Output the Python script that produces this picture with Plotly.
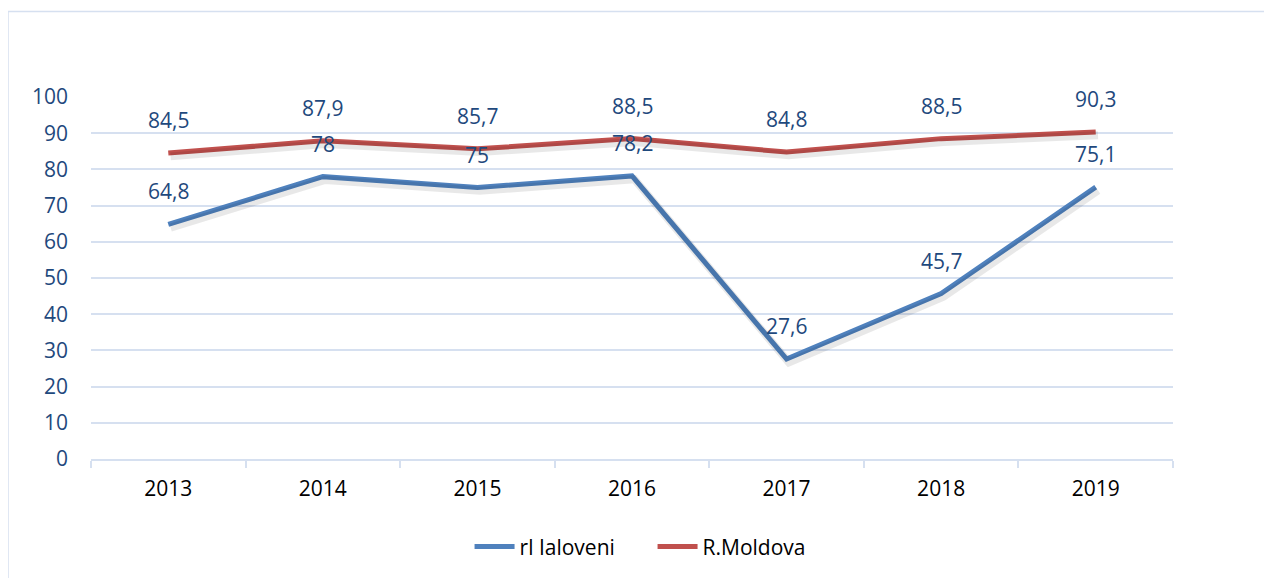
import plotly.graph_objects as go

years = ["2013", "2014", "2015", "2016", "2017", "2018", "2019"]
ialoveni = [64.8, 78, 75, 78.2, 27.6, 45.7, 75.1]
moldova = [84.5, 87.9, 85.7, 88.5, 84.8, 88.5, 90.3]
y_ticks = [0, 10, 20, 30, 40, 50, 60, 70, 80, 90, 100]

BLUE = "#4F81BD"
RED = "#C0504D"
LABEL = "#1F497D"
GRID = "#D6E0F0"
SHADOW = "rgba(0,0,0,0.09)"
FONT = "Open Sans"
FS = 21

def fmt(v):
    return ("%g" % v).replace(".", ",")

fig = go.Figure()
# soft drop shadows drawn on an overlaid, slightly offset axis pair
for series in (ialoveni, moldova):
    fig.add_trace(go.Scatter(x=list(range(len(years))), y=series, mode="lines",
                             xaxis="x2", yaxis="y2", showlegend=False, hoverinfo="skip",
                             line=dict(color=SHADOW, width=8)))
fig.add_trace(go.Scatter(x=years, y=ialoveni, mode="lines", name="rl Ialoveni",
                         line=dict(color=BLUE, width=5)))
fig.add_trace(go.Scatter(x=years, y=moldova, mode="lines", name="R.Moldova",
                         line=dict(color=RED, width=5)))

annotations = []
for series in (ialoveni, moldova):
    for i, yv in enumerate(series):
        annotations.append(dict(x=i, y=yv, text=fmt(yv), showarrow=False,
                                yshift=33, xref="x", yref="y",
                                font=dict(family=FONT, size=FS, color=LABEL)))

fig.update_layout(
    width=1272, height=578,
    margin=dict(l=83, r=107, t=89, b=127),
    paper_bgcolor="white", plot_bgcolor="white",
    font=dict(family=FONT, size=FS, color=LABEL),
    showlegend=True,
    legend=dict(orientation="h", x=0.519, xanchor="center", y=-0.243, yanchor="middle",
                font=dict(family=FONT, size=FS, color="#000000"),
                itemwidth=40, tracegroupgap=0, entrywidth=128),
    annotations=annotations,
    shapes=[dict(type="rect", xref="paper", yref="paper",
                 x0=-0.0767, x1=1.3, y0=-0.6, y1=1.236,
                 line=dict(color=GRID, width=1.5), layer="below")],
    xaxis2=dict(overlaying="x", range=[-0.515, 6.485], visible=False, fixedrange=True),
    yaxis2=dict(overlaying="y", range=[0.9, 100.9], visible=False, fixedrange=True),
    xaxis=dict(type="category", range=[-0.5, 6.5], showgrid=False,
               showline=True, linecolor=GRID, linewidth=1.5,
               ticks="outside", tickson="boundaries", ticklen=7, tickcolor=GRID, tickwidth=1.5,
               tickfont=dict(family=FONT, size=FS, color="#000000"),
               ticklabelstandoff=10, fixedrange=True),
    yaxis=dict(range=[0, 100], tickvals=y_ticks, showgrid=True, gridcolor=GRID, gridwidth=1.5,
               zeroline=False, showline=False, ticks="",
               tickfont=dict(family=FONT, size=FS, color=LABEL),
               ticklabelstandoff=22, fixedrange=True),
)

fig.write_html("out.html")
